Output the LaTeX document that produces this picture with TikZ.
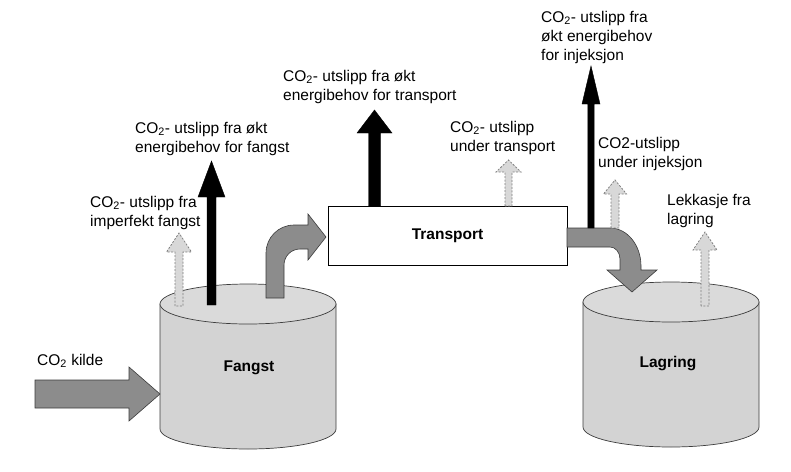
\documentclass[tikz,border=0pt]{standalone}
\usepackage{fontspec}
\setmainfont{Liberation Sans}
\definecolor{tankgray}{RGB}{211,211,211}
\definecolor{tanktop}{RGB}{218,218,218}
\definecolor{flowgray}{RGB}{140,140,140}
\definecolor{leakgray}{RGB}{216,216,216}
\definecolor{edgegray}{RGB}{60,60,60}
\newcommand{\notefont}{\fontsize{15.5}{19}\selectfont}
% up arrow: [style]{x}{y bottom}{y tip}{half shaft}{half head}{head depth}
\newcommand{\emitarrow}[7][]{%
  \draw[#1] ({#2-#5},#3) -- ({#2-#5},{#4+#7}) -- ({#2-#6},{#4+#7}) -- (#2,#4)
    -- ({#2+#6},{#4+#7}) -- ({#2+#5},{#4+#7}) -- ({#2+#5},#3) -- cycle;}
% tank: {x centre}{x radius}{y top}{y bottom}
\newcommand{\tank}[4]{%
  \draw[tankline, fill=tankgray] ({#1-#2},#3) -- ({#1-#2},#4)
    arc[start angle=180, end angle=0, x radius=#2, y radius=20] -- ({#1+#2},#3) -- cycle;
  \draw[tankline, fill=tanktop] (#1,#3) ellipse[x radius=#2, y radius=20];}

\begin{document}
\begin{tikzpicture}[x=1pt, y=-1pt,
    tankline/.style={draw=edgegray, line width=0.7pt},
    flow/.style={fill=flowgray, draw=edgegray, line width=0.6pt},
    energy/.style={fill=black},
    leak/.style={fill=leakgray, draw=gray, line width=0.8pt, dash pattern=on 2pt off 1.5pt},
    note/.style={align=left, inner sep=0pt, anchor=base west, font=\notefont},
    tankname/.style={font=\notefont\bfseries}]
    \useasboundingbox (0,0) rectangle (791,471);

    % tanks and transport
    \tank{248}{88}{304}{429}
    \tank{671}{88}{302}{427}
    \node[tankname] (fangst) at (249,368) {Fangst};
    \node[tankname] (lagring) at (668,364) {Lagring};
    \node[draw, line width=0.8pt, minimum width=239pt, minimum height=59pt, tankname]
        (transport) at (447.5,235.5) {Transport};

    % CO2 flow
    \draw[flow] (35,380) -- (129,380) -- (129,367) -- (160,394) -- (129,421) -- (129,408) -- (35,408) -- cycle;
    \draw[flow] (266,298) -- (266,253) arc[start angle=180, end angle=270, radius=28]
        -- (308,225) -- (308,214) -- (326,237) -- (308,260) -- (308,249) -- (300,249)
        arc[start angle=270, end angle=180, radius=16] -- (284,298) -- cycle;
    \draw[flow] (567,228) -- (610,228) arc[start angle=270, end angle=360, x radius=31, y radius=38]
        -- (641,270) -- (657,270) -- (632,292) -- (607,270) -- (620,270) -- (620,259)
        arc[start angle=0, end angle=-90, x radius=10, y radius=12] -- (567,247) -- cycle;

    % emissions
    \emitarrow[energy]{211.5}{305}{161}{4.5}{13.5}{36}
    \emitarrow[energy]{374.5}{206}{110}{6}{17.5}{23}
    \emitarrow[energy]{591}{228}{66}{3.2}{9}{38}
    \emitarrow[leak]{179}{306}{233}{4}{12.5}{19}
    \emitarrow[leak]{508.5}{206}{160}{3.5}{12.5}{12}
    \emitarrow[leak]{615}{228}{180}{4}{11.5}{14}
    \emitarrow[leak]{705}{306}{232}{4}{12}{18}

    % labels (placed by the baseline of the last line)
    \node[note] (kilde) at (37,365) {CO\textsubscript{2} kilde};
    \node[note] (imperfekt) at (90,226) {CO\textsubscript{2}- utslipp fra\\imperfekt fangst};
    \node[note] (energifangst) at (135,152) {CO\textsubscript{2}- utslipp fra økt\\energibehov for fangst};
    \node[note] (energitransport) at (283,100) {CO\textsubscript{2}- utslipp fra økt\\energibehov for transport};
    \node[note] (undertransport) at (450,151) {CO\textsubscript{2}- utslipp\\under transport};
    \node[note] (energiinjeksjon) at (541,60) {CO\textsubscript{2}- utslipp fra\\økt energibehov\\for injeksjon};
    \node[note] (underinjeksjon) at (598,167) {CO2-utslipp\\under injeksjon};
    \node[note] (lekkasje) at (667,224) {Lekkasje fra\\lagring};
\end{tikzpicture}
\end{document}
